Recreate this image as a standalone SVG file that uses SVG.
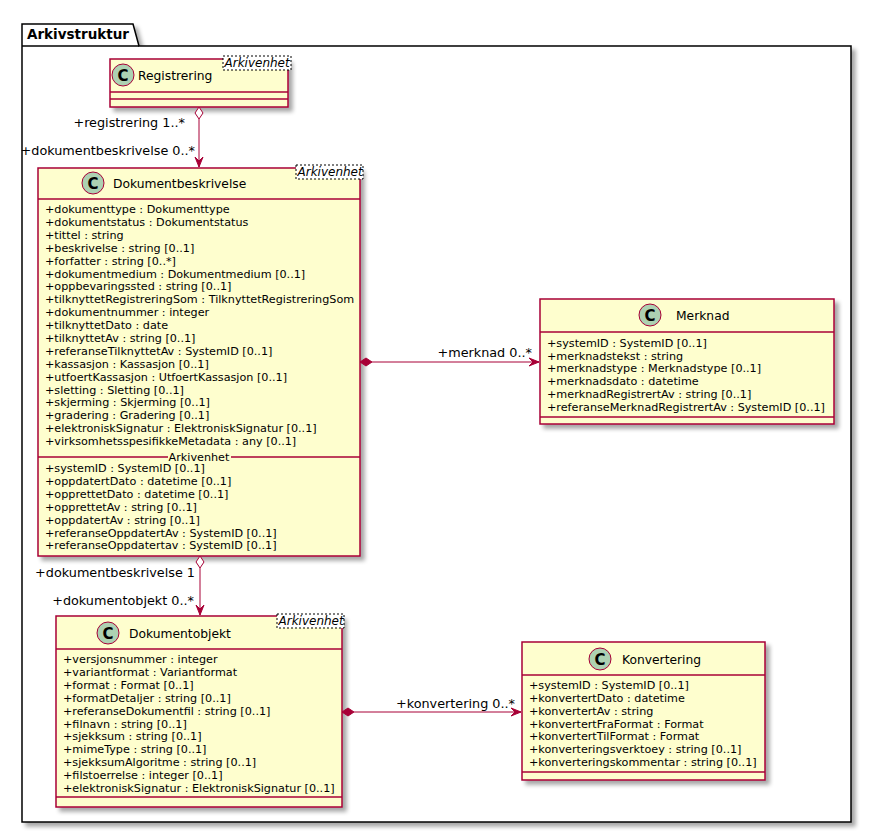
<svg xmlns="http://www.w3.org/2000/svg" width="871" height="833" viewBox="0 0 871 833">
<defs>
<filter id="sh" x="-10%" y="-10%" width="130%" height="130%">
<feGaussianBlur in="SourceAlpha" stdDeviation="2"/>
<feOffset dx="4" dy="4" result="b"/>
<feComponentTransfer><feFuncA type="linear" slope="0.35"/></feComponentTransfer>
<feMerge><feMergeNode/><feMergeNode in="SourceGraphic"/></feMerge>
</filter>
</defs>
<style>
text{font-family:"DejaVu Sans","Liberation Sans",sans-serif;fill:#000}
.box{fill:#FEFECE;stroke:#A80036;stroke-width:1.5}
.sep{stroke:#A80036;stroke-width:1.5}
.circ{fill:#ADD1B2;stroke:#A80036;stroke-width:1}
.cl{font-family:"DejaVu Sans",sans-serif;font-weight:bold;font-size:15px;text-anchor:middle}
.name{font-size:12.3px}
.attr{font-size:11.2px}
.lbl{font-size:12.8px;text-anchor:end}
.st{fill:#fff;stroke:#000;stroke-width:1;stroke-dasharray:2,2}
.stt{font-size:12px;font-style:italic}
.ln{stroke:#A80036;stroke-width:1;fill:none}
.ah{fill:#A80036;stroke:#A80036;stroke-width:1}
.pk{fill:none;stroke:#000;stroke-width:1.5}
</style>

<g id="package">
<path d="M22,46 L22,24 L133,24 L139,46 L851,46 L851,822 L22,822 Z" fill="#fff" stroke="#000" stroke-width="1.5" filter="url(#sh)"/>
<line class="pk" x1="22" y1="46" x2="139" y2="46"/>
<text x="27" y="39" style="font-weight:bold;font-size:13.5px">Arkivstruktur</text>
</g>

<g id="Registrering">
<rect class="box" x="110" y="59" width="178" height="48" filter="url(#sh)"/>
<line class="sep" x1="110" y1="92" x2="288" y2="92"/>
<line class="sep" x1="110" y1="99" x2="288" y2="99"/>
<circle class="circ" cx="123" cy="75" r="11"/>
<text class="cl" x="123" y="80.5">C</text>
<text class="name" x="138" y="80">Registrering</text>
<rect class="st" x="223" y="56" width="68" height="14"/>
<text class="stt" x="224.5" y="67">Arkivenhet</text>
</g>

<g id="Dokumentbeskrivelse">
<rect class="box" x="38" y="168" width="322" height="388" filter="url(#sh)"/>
<line class="sep" x1="38" y1="199" x2="360" y2="199"/>
<circle class="circ" cx="93" cy="183" r="11"/>
<text class="cl" x="93" y="188.5">C</text>
<text class="name" x="113" y="188">Dokumentbeskrivelse</text>
<rect class="st" x="296" y="165" width="67" height="14"/>
<text class="stt" x="297.5" y="176">Arkivenhet</text>
<text class="attr">
<tspan x="45" y="213">+dokumenttype : Dokumenttype</tspan>
<tspan x="45" dy="12.9">+dokumentstatus : Dokumentstatus</tspan>
<tspan x="45" dy="12.9">+tittel : string</tspan>
<tspan x="45" dy="12.9">+beskrivelse : string [0..1]</tspan>
<tspan x="45" dy="12.9">+forfatter : string [0..*]</tspan>
<tspan x="45" dy="12.9">+dokumentmedium : Dokumentmedium [0..1]</tspan>
<tspan x="45" dy="12.9">+oppbevaringssted : string [0..1]</tspan>
<tspan x="45" dy="12.9">+tilknyttetRegistreringSom : TilknyttetRegistreringSom</tspan>
<tspan x="45" dy="12.9">+dokumentnummer : integer</tspan>
<tspan x="45" dy="12.9">+tilknyttetDato : date</tspan>
<tspan x="45" dy="12.9">+tilknyttetAv : string [0..1]</tspan>
<tspan x="45" dy="12.9">+referanseTilknyttetAv : SystemID [0..1]</tspan>
<tspan x="45" dy="12.9">+kassasjon : Kassasjon [0..1]</tspan>
<tspan x="45" dy="12.9">+utfoertKassasjon : UtfoertKassasjon [0..1]</tspan>
<tspan x="45" dy="12.9">+sletting : Sletting [0..1]</tspan>
<tspan x="45" dy="12.9">+skjerming : Skjerming [0..1]</tspan>
<tspan x="45" dy="12.9">+gradering : Gradering [0..1]</tspan>
<tspan x="45" dy="12.9">+elektroniskSignatur : ElektroniskSignatur [0..1]</tspan>
<tspan x="45" dy="12.9">+virksomhetsspesifikkeMetadata : any [0..1]</tspan>
</text>
<line class="sep" x1="38" y1="457" x2="168" y2="457"/>
<line class="sep" x1="231" y1="457" x2="360" y2="457"/>
<text class="attr" x="199" y="461" text-anchor="middle">Arkivenhet</text>
<text class="attr">
<tspan x="45" y="472">+systemID : SystemID [0..1]</tspan>
<tspan x="45" dy="12.9">+oppdatertDato : datetime [0..1]</tspan>
<tspan x="45" dy="12.9">+opprettetDato : datetime [0..1]</tspan>
<tspan x="45" dy="12.9">+opprettetAv : string [0..1]</tspan>
<tspan x="45" dy="12.9">+oppdatertAv : string [0..1]</tspan>
<tspan x="45" dy="12.9">+referanseOppdatertAv : SystemID [0..1]</tspan>
<tspan x="45" dy="12.9">+referanseOppdatertav : SystemID [0..1]</tspan>
</text>
</g>

<g id="Merknad">
<rect class="box" x="540" y="299" width="294" height="125" filter="url(#sh)"/>
<line class="sep" x1="540" y1="332" x2="834" y2="332"/>
<line class="sep" x1="540" y1="417" x2="834" y2="417"/>
<circle class="circ" cx="650" cy="315" r="11"/>
<text class="cl" x="650" y="320.5">C</text>
<text class="name" x="676" y="320">Merknad</text>
<text class="attr">
<tspan x="547" y="347">+systemID : SystemID [0..1]</tspan>
<tspan x="547" dy="12.7">+merknadstekst : string</tspan>
<tspan x="547" dy="12.7">+merknadstype : Merknadstype [0..1]</tspan>
<tspan x="547" dy="12.7">+merknadsdato : datetime</tspan>
<tspan x="547" dy="12.7">+merknadRegistrertAv : string [0..1]</tspan>
<tspan x="547" dy="12.7">+referanseMerknadRegistrertAv : SystemID [0..1]</tspan>
</text>
</g>

<g id="Dokumentobjekt">
<rect class="box" x="56" y="616" width="286" height="191" filter="url(#sh)"/>
<line class="sep" x1="56" y1="649" x2="342" y2="649"/>
<line class="sep" x1="56" y1="797" x2="342" y2="797"/>
<circle class="circ" cx="108" cy="633" r="11"/>
<text class="cl" x="108" y="638.5">C</text>
<text class="name" x="129" y="638">Dokumentobjekt</text>
<rect class="st" x="277" y="614" width="67" height="14"/>
<text class="stt" x="278.5" y="625">Arkivenhet</text>
<text class="attr">
<tspan x="63" y="663">+versjonsnummer : integer</tspan>
<tspan x="63" dy="12.9">+variantformat : Variantformat</tspan>
<tspan x="63" dy="12.9">+format : Format [0..1]</tspan>
<tspan x="63" dy="12.9">+formatDetaljer : string [0..1]</tspan>
<tspan x="63" dy="12.9">+referanseDokumentfil : string [0..1]</tspan>
<tspan x="63" dy="12.9">+filnavn : string [0..1]</tspan>
<tspan x="63" dy="12.9">+sjekksum : string [0..1]</tspan>
<tspan x="63" dy="12.9">+mimeType : string [0..1]</tspan>
<tspan x="63" dy="12.9">+sjekksumAlgoritme : string [0..1]</tspan>
<tspan x="63" dy="12.9">+filstoerrelse : integer [0..1]</tspan>
<tspan x="63" dy="12.9">+elektroniskSignatur : ElektroniskSignatur [0..1]</tspan>
</text>
</g>

<g id="Konvertering">
<rect class="box" x="522" y="642" width="243" height="138" filter="url(#sh)"/>
<line class="sep" x1="522" y1="675" x2="765" y2="675"/>
<line class="sep" x1="522" y1="772" x2="765" y2="772"/>
<circle class="circ" cx="600" cy="659" r="11"/>
<text class="cl" x="600" y="664.5">C</text>
<text class="name" x="622" y="664">Konvertering</text>
<text class="attr">
<tspan x="529" y="689">+systemID : SystemID [0..1]</tspan>
<tspan x="529" dy="12.85">+konvertertDato : datetime</tspan>
<tspan x="529" dy="12.85">+konvertertAv : string</tspan>
<tspan x="529" dy="12.85">+konvertertFraFormat : Format</tspan>
<tspan x="529" dy="12.85">+konvertertTilFormat : Format</tspan>
<tspan x="529" dy="12.85">+konverteringsverktoey : string [0..1]</tspan>
<tspan x="529" dy="12.85">+konverteringskommentar : string [0..1]</tspan>
</text>
</g>

<g id="connectors">
<line class="ln" x1="199" y1="119" x2="199" y2="167"/>
<path d="M199,107 L203,113 L199,119 L195,113 Z" fill="#fff" stroke="#A80036" stroke-width="1"/>
<path class="ah" d="M199,167 L195,157 L199,161 L203,157 Z"/>
<text class="lbl" x="185" y="127">+registrering 1..*</text>
<text class="lbl" x="195" y="155">+dokumentbeskrivelse 0..*</text>

<line class="ln" x1="372" y1="362" x2="539" y2="362"/>
<path class="ah" d="M360,362 L366,358 L372,362 L366,366 Z"/>
<path class="ah" d="M539,362 L529,358 L533,362 L529,366 Z"/>
<text class="lbl" x="532" y="357">+merknad 0..*</text>

<line class="ln" x1="200" y1="568" x2="200" y2="615"/>
<path d="M200,556 L204,562 L200,568 L196,562 Z" fill="#fff" stroke="#A80036" stroke-width="1"/>
<path class="ah" d="M200,615 L196,605 L200,609 L204,605 Z"/>
<text class="lbl" x="195" y="577">+dokumentbeskrivelse 1</text>
<text class="lbl" x="194" y="605">+dokumentobjekt 0..*</text>

<line class="ln" x1="354" y1="712" x2="521" y2="712"/>
<path class="ah" d="M342,712 L348,708 L354,712 L348,716 Z"/>
<path class="ah" d="M521,712 L511,708 L515,712 L511,716 Z"/>
<text class="lbl" x="515" y="708">+konvertering 0..*</text>
</g>
</svg>
